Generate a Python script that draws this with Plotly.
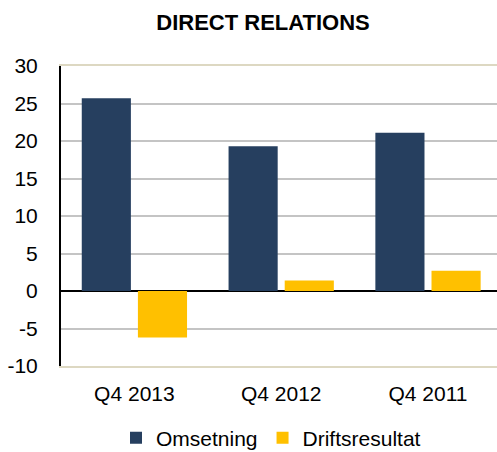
import plotly.graph_objects as go

categories = ["Q4 2013", "Q4 2012", "Q4 2011"]
omsetning = [25.7, 19.3, 21.1]
driftsresultat = [-6.2, 1.4, 2.7]
y_ticks = [-10, -5, 0, 5, 10, 15, 20, 25, 30]
y_tick_labels = ["-10", "-5", "0", "5", "10", "15", "20", "25", "30"]

FONT = "Liberation Sans, Arial, sans-serif"

fig = go.Figure()
fig.add_trace(go.Bar(x=categories, y=omsetning, name="Omsetning",
                     marker=dict(color="#263F5F", line=dict(width=0))))
fig.add_trace(go.Bar(x=categories, y=driftsresultat, name="Driftsresultat",
                     marker=dict(color="#FFC000", line=dict(width=0))))

fig.update_layout(
    width=497, height=452,
    margin=dict(l=61, r=0, t=66, b=86, autoexpand=False),
    paper_bgcolor="white", plot_bgcolor="white",
    barmode="group", bargap=0.235, bargroupgap=0.125,
    font=dict(family=FONT, size=21, color="black"),
    title=dict(text="<b>DIRECT RELATIONS</b>", x=263/497, xanchor="center",
               xref="container", y=1-22/452, yanchor="middle", yref="container",
               font=dict(family=FONT, size=22, color="black")),
    showlegend=True,
    legend=dict(orientation="h", xref="container", yref="container",
                x=271/497, xanchor="center", y=1-438/452, yanchor="middle",
                font=dict(family=FONT, size=21, color="black"),
                itemwidth=30, tracegroupgap=0, traceorder="normal"),
    xaxis=dict(range=[-0.5, 2.47], showgrid=False, ticks="", automargin=False,
               showline=True, linecolor="#DDD8C2", linewidth=2, mirror=True,
               ticklabelstandoff=8, tickfont=dict(size=21)),
    yaxis=dict(range=[-10, 30], tickvals=y_ticks, ticktext=y_tick_labels,
               showgrid=True, automargin=False,
               gridcolor="#C4C4C4", gridwidth=2,
               zeroline=True, zerolinecolor="black", zerolinewidth=2,
               showline=True, linecolor="black", linewidth=2,
               ticks="", ticklabelstandoff=17, tickfont=dict(size=21)),
)

fig.write_html("out.html", config={"displayModeBar": False},
               post_script="document.body.style.margin='0';document.body.style.overflow='hidden';")
